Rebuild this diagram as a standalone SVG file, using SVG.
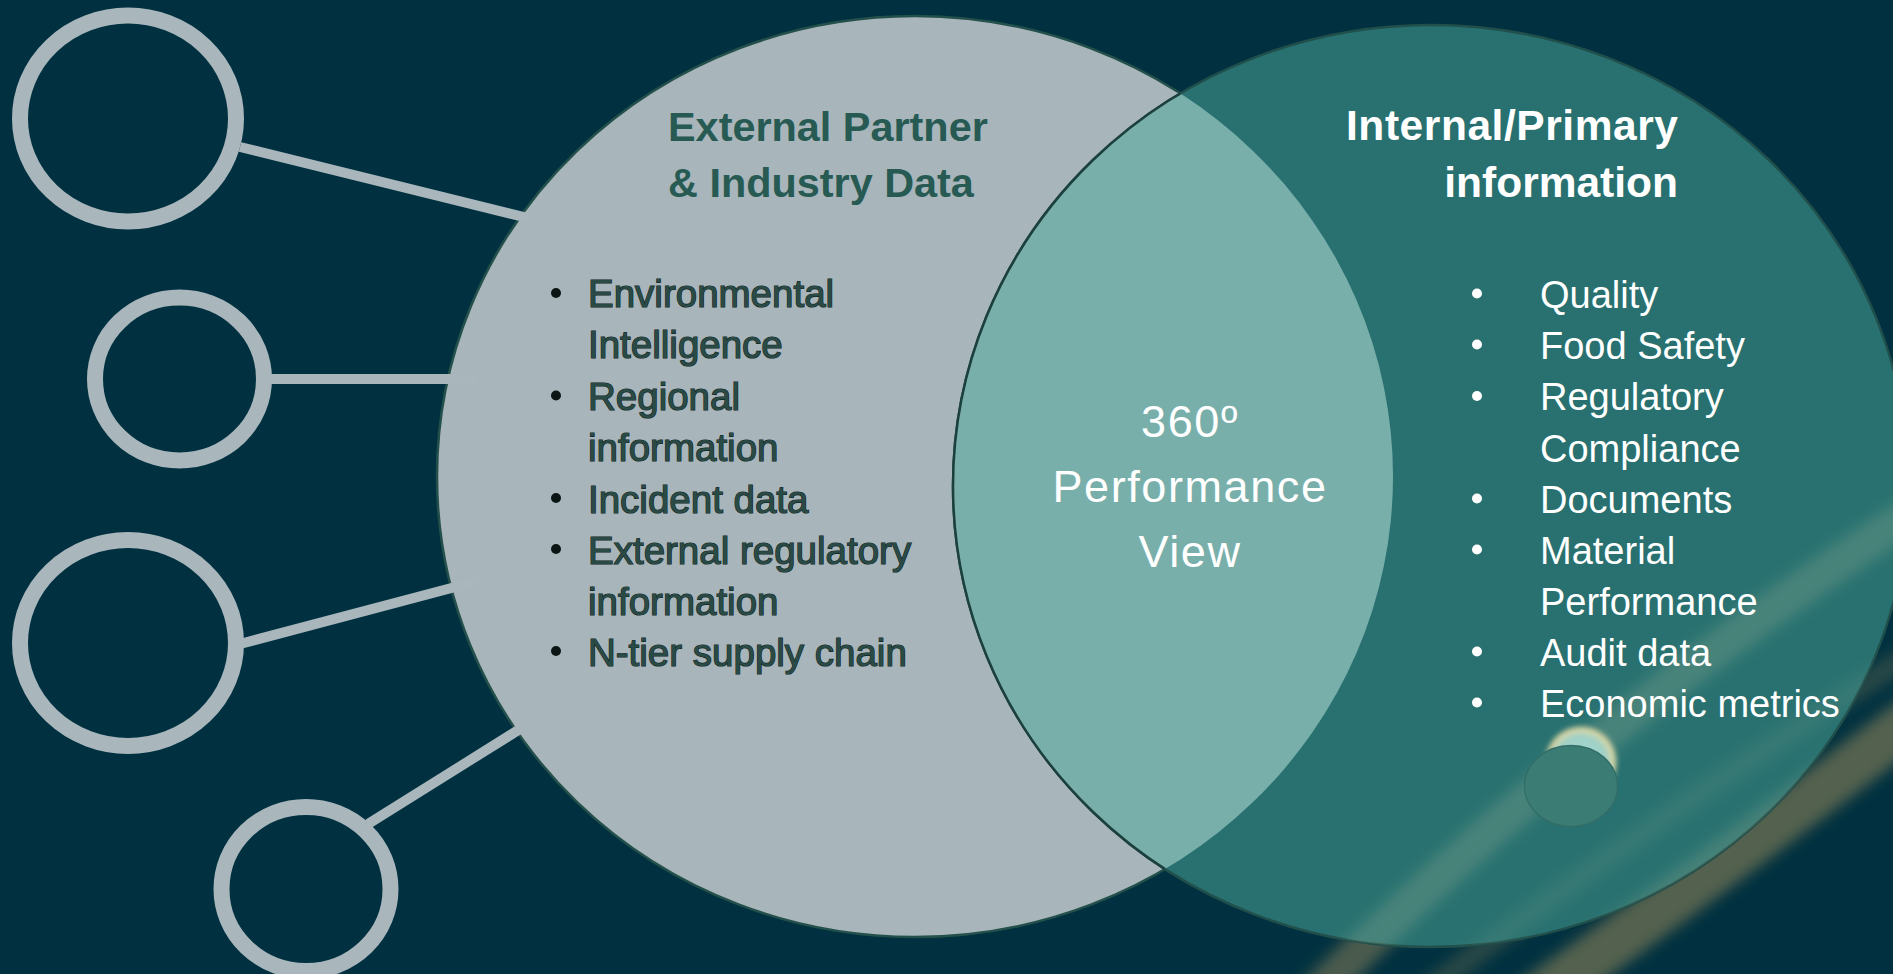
<svg xmlns="http://www.w3.org/2000/svg" width="1893" height="974" viewBox="0 0 1893 974">
  <defs>
    <style>
      .ring { fill: none; stroke: #a9b7bc; stroke-width: 16; }
      .link { stroke: #a9b7bc; stroke-width: 10; stroke-linecap: butt; }
      .title-ext { font-family: "Liberation Sans", Arial, sans-serif; font-weight: bold; font-size: 41.4px; fill: #265a53; }
      .title-int { font-family: "Liberation Sans", Arial, sans-serif; font-weight: bold; font-size: 42.5px; fill: #ffffff; }
      .item-ext { font-family: "Liberation Sans", Arial, sans-serif; font-size: 38.5px; fill: #2a4a46; stroke: #0f2422; stroke-width: 1.2; paint-order: stroke; }
      .item-int { font-family: "Liberation Sans", Arial, sans-serif; font-size: 38px; fill: #ffffff; }
      .center { font-family: "Liberation Sans", Arial, sans-serif; font-size: 45px; fill: #ffffff; letter-spacing: 1.6px; text-anchor: middle; }
      .dot-ext { fill: #0a1514; }
      .dot-int { fill: #ffffff; }
    </style>
    <clipPath id="clip-left">
      <ellipse cx="915" cy="476.5" rx="478" ry="460.5"/>
    </clipPath>
    <clipPath id="clip-right">
      <ellipse cx="1431" cy="486" rx="478" ry="461"/>
    </clipPath>
    <filter id="soft" x="-20%" y="-20%" width="140%" height="140%">
      <feGaussianBlur stdDeviation="7"/>
    </filter>
    <filter id="glow" x="-50%" y="-50%" width="200%" height="200%">
      <feGaussianBlur stdDeviation="2.5"/>
    </filter>
    <radialGradient id="flare" cx="0.5" cy="0.5" r="0.5">
      <stop offset="0" stop-color="#a8dbd4"/>
      <stop offset="0.7" stop-color="#9ed0c6"/>
      <stop offset="0.9" stop-color="#e2d9a2"/>
      <stop offset="1" stop-color="#e2d9a2" stop-opacity="0"/>
    </radialGradient>
  </defs>

  <!-- backdrop -->
  <rect width="1893" height="974" fill="#013140"/>

  <!-- warm light streaks across the lower right corner -->
  <g id="streaks" fill="none" filter="url(#soft)" stroke-linecap="round">
    <path d="M 1310 1000 Q 1578 731 1910 515" stroke="#b89c5e" stroke-width="36" opacity="0.4"/>
    <path d="M 1535 1000 Q 1728 862 1910 722" stroke="#b89c5e" stroke-width="48" opacity="0.45"/>
    <path d="M 1415 1000 Q 1650 820 1910 655" stroke="#b89c5e" stroke-width="22" opacity="0.22"/>
  </g>

  <!-- left set: external partner data -->
  <g id="node-external">
    <ellipse cx="915" cy="476.5" rx="478" ry="460.5" fill="#a8b5ba" stroke="#24504b" stroke-width="2.5"/>
    <text class="title-ext" x="668" y="141">External Partner</text>
    <text class="title-ext" x="668" y="197">&amp; Industry Data</text>
    <circle class="dot-ext" cx="556" cy="293" r="5"/>
    <circle class="dot-ext" cx="556" cy="395.5" r="5"/>
    <circle class="dot-ext" cx="556" cy="498" r="5"/>
    <circle class="dot-ext" cx="556" cy="549" r="5"/>
    <circle class="dot-ext" cx="556" cy="651" r="5"/>
    <text class="item-ext" x="588" y="307">Environmental</text>
    <text class="item-ext" x="588" y="358">Intelligence</text>
    <text class="item-ext" x="588" y="410">Regional</text>
    <text class="item-ext" x="588" y="461">information</text>
    <text class="item-ext" x="588" y="512.5">Incident data</text>
    <text class="item-ext" x="588" y="563.5">External regulatory</text>
    <text class="item-ext" x="588" y="614.5">information</text>
    <text class="item-ext" x="588" y="665.5">N-tier supply chain</text>
  </g>

  <!-- right set: internal / primary information -->
  <g id="node-internal">
    <ellipse cx="1431" cy="486" rx="478" ry="461" fill="#287170" stroke="#214f4b" stroke-width="2.5"/>
    <g clip-path="url(#clip-right)">
      <g fill="none" filter="url(#soft)" stroke-linecap="round">
        <path d="M 1310 1000 Q 1578 731 1910 515" stroke="#e8dcaa" stroke-width="36" opacity="0.17"/>
        <path d="M 1535 1000 Q 1728 862 1910 722" stroke="#e8dcaa" stroke-width="48" opacity="0.15"/>
        <path d="M 1415 1000 Q 1650 820 1910 655" stroke="#e8dcaa" stroke-width="22" opacity="0.08"/>
      </g>
      <!-- lens flare -->
      <ellipse cx="1581" cy="762" rx="37" ry="37" fill="url(#flare)" filter="url(#glow)"/>
      <ellipse cx="1571" cy="786" rx="46.5" ry="40.5" fill="#3b7d75" stroke="#336e68" stroke-width="1.5"/>
    </g>
    <text class="title-int" x="1678" y="140" text-anchor="end" textLength="332">Internal/Primary</text>
    <text class="title-int" x="1678" y="197" text-anchor="end">information</text>
    <circle class="dot-int" cx="1477" cy="293.5" r="5"/>
    <circle class="dot-int" cx="1477" cy="344.5" r="5"/>
    <circle class="dot-int" cx="1477" cy="396" r="5"/>
    <circle class="dot-int" cx="1477" cy="498.5" r="5"/>
    <circle class="dot-int" cx="1477" cy="549.5" r="5"/>
    <circle class="dot-int" cx="1477" cy="651.5" r="5"/>
    <circle class="dot-int" cx="1477" cy="702.5" r="5"/>
    <text class="item-int" x="1540" y="307.5">Quality</text>
    <text class="item-int" x="1540" y="358.5">Food Safety</text>
    <text class="item-int" x="1540" y="410">Regulatory</text>
    <text class="item-int" x="1540" y="461.5">Compliance</text>
    <text class="item-int" x="1540" y="512.5">Documents</text>
    <text class="item-int" x="1540" y="563.5">Material</text>
    <text class="item-int" x="1540" y="614.5">Performance</text>
    <text class="item-int" x="1540" y="665.5">Audit data</text>
    <text class="item-int" x="1540" y="716.5">Economic metrics</text>
  </g>

  <!-- overlap of the two sets -->
  <g id="node-overlap">
    <g clip-path="url(#clip-left)">
      <ellipse cx="1431" cy="486" rx="478" ry="461" fill="#79afab" stroke="#1c403e" stroke-width="2.5"/>
    </g>
    <text class="center" x="1190" y="437">360º</text>
    <text class="center" x="1190" y="502">Performance</text>
    <text class="center" x="1190" y="567">View</text>
  </g>

  <!-- spokes from the outer rings into the external set -->
  <g id="connectors">
    <line class="link" x1="240" y1="147" x2="528" y2="218"/>
    <line class="link" x1="268" y1="379" x2="478" y2="379"/>
    <line class="link" x1="240" y1="644" x2="478" y2="581"/>
    <line class="link" x1="368" y1="824" x2="520" y2="729"/>
  </g>

  <!-- outer rings -->
  <g id="ring-1"><ellipse class="ring" cx="128" cy="118.5" rx="108" ry="103"/></g>
  <g id="ring-2"><ellipse class="ring" cx="179.5" cy="379" rx="84.5" ry="81.5"/></g>
  <g id="ring-3"><ellipse class="ring" cx="128" cy="643" rx="108" ry="103"/></g>
  <g id="ring-4"><ellipse class="ring" cx="306" cy="889" rx="84.5" ry="82"/></g>
</svg>
